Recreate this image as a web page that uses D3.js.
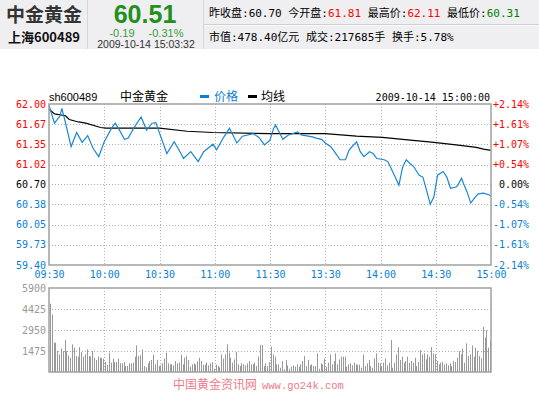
<!DOCTYPE html>
<html>
<head>
<meta charset="utf-8">
<script src="https://cdn.jsdelivr.net/npm/d3@7"></script>
<style>
  body { margin: 0; background: #fff; }
  svg { display: block; }
  .mono { font-family: "DejaVu Sans Mono", monospace; font-size: 10px; }
  .cjk { font-family: "Noto Sans CJK SC", "Noto Sans", sans-serif; }
</style>
</head>
<body>
<div id="chart"></div>
<script>
// price line (time, price)
const priceTimes = ["09:30","09:33","09:36","09:37","09:39","09:42","09:45","09:48","09:51","09:54","09:57","10:00",
  "10:04","10:06","10:08","10:11","10:13","10:16","10:20","10:23","10:26","10:28","10:30","10:34","10:38","10:42",
  "10:43","10:47","10:51","10:54","10:59","11:01","11:05","11:08","11:12","11:15","11:21","11:24","11:27","11:29",
  "13:00","13:02","13:03","13:07","13:10","13:15","13:17","13:23","13:25","13:28","13:30","13:33","13:35","13:38",
  "13:41","13:43","13:47","13:49","13:51","13:54","13:56","13:58","14:02","14:04","14:07","14:10","14:12","14:14",
  "14:16","14:18","14:21","14:23","14:25","14:27","14:29","14:31","14:34","14:36","14:38","14:41","14:42","14:44",
  "14:45","14:47","14:49","14:51","14:53","14:56","14:59","15:00"];
const priceValues = [61.98,61.69,61.81,61.93,61.69,61.31,61.54,61.38,61.49,61.28,61.15,61.39,
  61.61,61.69,61.59,61.43,61.45,61.61,61.79,61.58,61.69,61.70,61.53,61.20,61.39,61.18,
  61.12,61.23,61.07,61.23,61.35,61.26,61.47,61.61,61.37,61.48,61.52,61.46,61.34,61.39,
  61.42,61.61,61.66,61.43,61.50,61.55,61.50,61.47,61.45,61.43,61.37,61.31,61.23,61.10,
  61.10,61.26,61.39,61.23,61.15,61.23,61.20,61.12,61.10,61.07,60.88,60.69,60.98,61.10,
  61.04,60.99,60.85,60.82,60.61,60.38,60.50,60.85,60.91,60.82,60.64,60.66,60.69,60.80,
  60.72,60.58,60.40,60.48,60.55,60.56,60.53,60.51];

// average line
const avgTimes = ["09:30","09:33","09:39","09:41","09:46","09:50","09:58","10:01","10:30","10:45","10:59",
  "13:00","13:30","13:47","14:01","14:12","14:29","14:41","14:52","14:56","15:00"];
const avgValues = [61.92,61.84,61.81,61.75,61.71,61.69,61.62,61.61,61.61,61.56,61.54,
  61.52,61.52,61.48,61.46,61.43,61.38,61.34,61.30,61.27,61.25];

// one volume bar per minute, 09:30 .. 14:59
const volAm = [4800,4050,2060,2060,1470,1240,1640,1470,2250,1470,1170,1000,1940,1710,1120,1080,1750,1400,1080,1240,
  1590,1120,1080,1470,1000,840,1080,1000,1000,940,700,490,1360,655,940,700,700,940,610,610,
  700,420,420,610,610,655,1080,1870,1120,1170,1590,420,330,610,770,840,1220,540,840,420,
  470,610,940,1360,610,540,540,470,770,610,655,1220,540,1000,1120,840,370,540,610,540,
  750,1000,770,510,510,655,470,610,700,230,510,420,330,1240,940,1240,1940,1360,1000,655,
  890,1400,540,420,610,540,470,610,770,540,540,655,420,1080,1900,1900,420,610,420,700];
const volPm = [1780,1240,1080,540,540,300,770,190,840,470,230,370,470,370,540,370,540,770,1120,420,
  840,470,540,420,420,1310,230,610,540,940,370,655,1240,540,770,1310,540,890,1080,1080,
  1080,370,540,610,470,655,540,510,510,300,1240,420,610,840,420,300,940,1310,655,610,
  420,655,940,470,655,2250,300,655,1240,1750,840,1080,655,770,1080,655,770,655,1000,420,
  700,1540,1240,1310,890,1240,1080,1750,1310,1240,770,540,655,700,540,610,470,610,420,770,
  700,1000,1470,1240,1640,655,2010,1120,1240,1870,1080,1710,1470,1120,940,3180,2410,2930,1710,2180];

const priceTicks = [62.00, 61.67, 61.35, 61.02, 60.70, 60.38, 60.05, 59.73, 59.40];
const pctTicks = ["+2.14%","+1.61%","+1.07%","+0.54%","0.00%","-0.54%","-1.07%","-1.61%","-2.14%"];
const timeTicks = ["09:30","10:00","10:30","11:00","11:30","13:30","14:00","14:30","15:00"];
const volTicks = [5900, 4425, 2950, 1475];

const RED = "#ff0000", BLUE = "#0a7fd4", GRID = "#b0b0b0", FRAME = "#a0a0a0";

// trading minute index, lunch break collapsed
function toMin(t) {
  const [h, m] = t.split(":").map(Number);
  const v = h * 60 + m;
  return v <= 690 ? v - 570 : v - 780 + 120;
}

const W = 539, H = 397;
const svg = d3.select("#chart").append("svg").attr("width", W).attr("height", H);
svg.append("rect").attr("width", W).attr("height", H).attr("fill", "#fff");

// ---- header ----
const head = svg.append("g");
head.append("rect").attr("width", W).attr("height", 49).attr("fill", "#efeff1");
head.append("line").attr("x1", 87.5).attr("x2", 87.5).attr("y1", 0).attr("y2", 49).attr("stroke", "#d6d6d8");
head.append("line").attr("x1", 203.5).attr("x2", 203.5).attr("y1", 0).attr("y2", 49).attr("stroke", "#d6d6d8");
head.append("line").attr("x1", 204).attr("x2", W).attr("y1", 24.5).attr("y2", 24.5).attr("stroke", "#d0d0d2");
head.append("line").attr("x1", 204).attr("x2", W).attr("y1", 25.5).attr("y2", 25.5).attr("stroke", "#fafafa");

head.append("text").attr("class", "cjk").attr("x", 44).attr("y", 22.3).attr("text-anchor", "middle")
  .attr("font-size", 19).attr("font-weight", "bold").attr("fill", "#333").text("中金黄金");
head.append("text").attr("class", "cjk").attr("x", 44).attr("y", 42).attr("text-anchor", "middle")
  .attr("font-size", 13).attr("font-weight", "bold").attr("fill", "#111").text("上海600489");

head.append("text").attr("x", 145).attr("y", 22.5).attr("text-anchor", "middle")
  .attr("font-family", "Liberation Sans, Arial").attr("font-size", 25).attr("font-weight", "bold")
  .attr("fill", "#22901c").text("60.51");
head.append("text").attr("x", 122).attr("y", 37).attr("text-anchor", "middle")
  .attr("font-family", "Liberation Sans, Arial").attr("font-size", 11).attr("fill", "#3a9a3a").text("-0.19");
head.append("text").attr("x", 166).attr("y", 37).attr("text-anchor", "middle")
  .attr("font-family", "Liberation Sans, Arial").attr("font-size", 11).attr("fill", "#3a9a3a").text("-0.31%");
head.append("text").attr("x", 146).attr("y", 47.5).attr("text-anchor", "middle")
  .attr("font-family", "Liberation Sans, Arial").attr("font-size", 10.5).attr("fill", "#333").text("2009-10-14 15:03:32");

const row1 = [["昨收盘", "60.70", "#000"], ["今开盘", "61.81", RED], ["最高价", "62.11", RED], ["最低价", "60.31", "#008000"]];
const t1 = head.append("text").attr("x", 209).attr("y", 17)
  .attr("font-family", "DejaVu Sans Mono, Noto Sans CJK SC").attr("font-size", 11).attr("xml:space", "preserve");
row1.forEach((r, i) => {
  t1.append("tspan").attr("fill", "#000").text((i ? " " : "") + r[0] + ":");
  t1.append("tspan").attr("fill", r[2]).text(r[1]);
});
head.append("text").attr("x", 209).attr("y", 41)
  .attr("font-family", "DejaVu Sans Mono, Noto Sans CJK SC").attr("font-size", 11).attr("fill", "#000")
  .text("市值:478.40亿元 成交:217685手 换手:5.78%");

// ---- price panel ----
const x = d3.scaleLinear().domain([0, 240]).range([49, 491]);
const y = d3.scaleLinear().domain([59.40, 62.00]).range([265, 104]);

const g = svg.append("g");
g.append("g").selectAll("line").data(priceTicks.slice(1, -1)).join("line")
  .attr("x1", 49).attr("x2", 491).attr("y1", d => Math.round(y(d)) + 0.5).attr("y2", d => Math.round(y(d)) + 0.5)
  .attr("stroke", GRID).attr("stroke-dasharray", "1,2");
g.append("g").selectAll("line").data(timeTicks.slice(1, -1)).join("line")
  .attr("x1", d => Math.round(x(toMin(d))) + 0.5).attr("x2", d => Math.round(x(toMin(d))) + 0.5)
  .attr("y1", 104).attr("y2", 265).attr("stroke", GRID).attr("stroke-dasharray", "1,2");

g.append("path")
  .datum(avgTimes.map((t, i) => [toMin(t), avgValues[i]]))
  .attr("fill", "none").attr("stroke", "#000").attr("stroke-width", 1.2)
  .attr("d", d3.line().x(d => x(d[0])).y(d => y(d[1])));
g.append("path")
  .datum(priceTimes.map((t, i) => [toMin(t), priceValues[i]]))
  .attr("fill", "none").attr("stroke", "#1a86d6").attr("stroke-width", 1.2)
  .attr("d", d3.line().x(d => x(d[0])).y(d => y(d[1])));

g.append("rect").attr("x", 49).attr("y", 104).attr("width", 442).attr("height", 161)
  .attr("fill", "none").attr("stroke", FRAME).attr("stroke-width", 1.5);

const tickColor = i => i < 4 ? RED : i === 4 ? "#000" : BLUE;

const leftAx = g.append("g").attr("transform", "translate(49,0)")
  .call(d3.axisLeft(y).tickValues(priceTicks).tickSize(0).tickPadding(3).tickFormat(d3.format(".2f")));
leftAx.select(".domain").remove();
leftAx.selectAll("text").attr("class", "mono").attr("font-size", null).attr("font-family", null)
  .attr("fill", (d, i) => tickColor(i));

const rightAx = g.append("g").attr("transform", "translate(529,0)")
  .call(d3.axisLeft(y).tickValues(priceTicks).tickSize(0).tickPadding(0).tickFormat((d, i) => pctTicks[i]));
rightAx.select(".domain").remove();
rightAx.selectAll("text").attr("class", "mono").attr("font-size", null).attr("font-family", null)
  .attr("fill", (d, i) => tickColor(i));

const timeAx = g.append("g").attr("transform", "translate(0,271)")
  .call(d3.axisBottom(x).tickValues(timeTicks.map(toMin)).tickSize(0).tickPadding(0).tickFormat((d, i) => timeTicks[i]));
timeAx.select(".domain").remove();
timeAx.selectAll("text").attr("class", "mono").attr("font-size", null).attr("font-family", null)
  .attr("fill", BLUE).attr("dy", "0.71em");

// title row
g.append("text").attr("x", 49).attr("y", 101).attr("font-family", "Liberation Sans, Arial").attr("font-size", 11)
  .attr("fill", "#000").text("sh600489");
g.append("text").attr("class", "cjk").attr("x", 120).attr("y", 101).attr("font-size", 12).attr("fill", "#000").text("中金黄金");
g.append("rect").attr("x", 200).attr("y", 95).attr("width", 9).attr("height", 3).attr("fill", BLUE);
g.append("text").attr("class", "cjk").attr("x", 214).attr("y", 101).attr("font-size", 12).attr("fill", BLUE).text("价格");
g.append("rect").attr("x", 248).attr("y", 95).attr("width", 9).attr("height", 3).attr("fill", "#000");
g.append("text").attr("class", "cjk").attr("x", 261).attr("y", 101).attr("font-size", 12).attr("fill", "#000").text("均线");
g.append("text").attr("class", "mono").attr("x", 490).attr("y", 101).attr("text-anchor", "end")
  .attr("fill", "#000").text("2009-10-14 15:00:00");

// ---- volume panel ----
const vols = volAm.concat(volPm);
const yv = d3.scaleLinear().domain([0, 5900]).range([372, 288]);
const v = svg.append("g");
v.append("g").selectAll("line").data(volTicks.slice(1)).join("line")
  .attr("x1", 49).attr("x2", 491).attr("y1", d => Math.round(yv(d)) + 0.5).attr("y2", d => Math.round(yv(d)) + 0.5)
  .attr("stroke", GRID).attr("stroke-dasharray", "1,2");
v.append("g").selectAll("line").data(timeTicks.slice(1, -1)).join("line")
  .attr("x1", d => Math.round(x(toMin(d))) + 0.5).attr("x2", d => Math.round(x(toMin(d))) + 0.5)
  .attr("y1", 288).attr("y2", 372).attr("stroke", GRID).attr("stroke-dasharray", "1,2");
v.append("g").selectAll("rect").data(vols).join("rect")
  .attr("x", (d, i) => Math.round(x(i + 0.5))).attr("y", d => yv(d))
  .attr("width", 1).attr("height", d => 372 - yv(d)).attr("fill", "#999");
v.append("rect").attr("x", 49).attr("y", 288).attr("width", 442).attr("height", 84)
  .attr("fill", "none").attr("stroke", FRAME).attr("stroke-width", 1.5);

const volAx = v.append("g").attr("transform", "translate(46,0)")
  .call(d3.axisLeft(yv).tickValues(volTicks).tickSize(0).tickPadding(0).tickFormat(d3.format("d")));
volAx.select(".domain").remove();
volAx.selectAll("text").attr("class", "mono").attr("font-size", null).attr("font-family", null).attr("fill", "#999");

// watermark
const wm = svg.append("text").attr("y", 389).attr("fill", "#f07a8a");
wm.append("tspan").attr("class", "cjk").attr("x", 173).attr("font-size", 12).text("中国黄金资讯网");
wm.append("tspan").attr("x", 262).attr("font-family", "Liberation Mono, monospace").attr("font-size", 10.5).text("www.go24k.com");
</script>
</body>
</html>
